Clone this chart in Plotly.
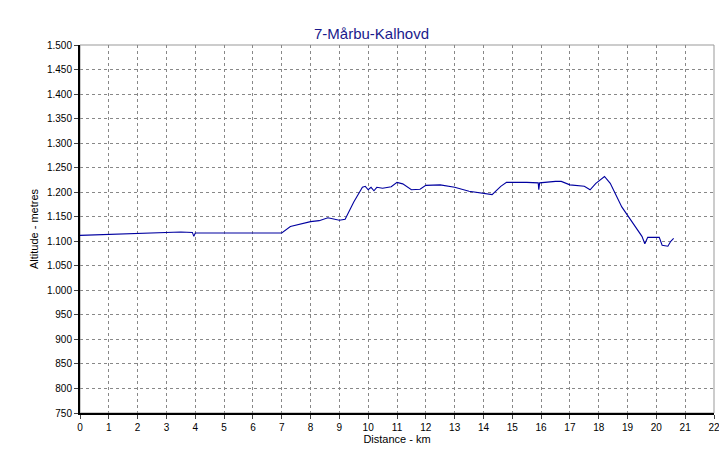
import plotly.graph_objects as go

dist_km = [0, 0.5, 1, 1.5, 2, 2.5, 3, 3.5, 3.9, 3.95, 4.0, 5, 6, 7, 7.3, 7.7, 8, 8.3, 8.6, 9,
           9.2, 9.5, 9.8, 9.9, 10.0, 10.1, 10.2, 10.3, 10.5, 10.8, 11, 11.2, 11.5, 11.8, 12,
           12.5, 13, 13.5, 14, 14.3, 14.6, 14.8, 15.5, 15.9, 15.92, 15.95, 16.5, 16.7, 17,
           17.5, 17.7, 17.9, 18.2, 18.4, 18.8, 19.2, 19.5, 19.6, 19.7, 20.1, 20.2, 20.4,
           20.5, 20.6]
alt_m = [1112, 1113, 1115, 1116, 1116, 1117, 1118, 1119, 1118, 1110, 1117, 1117, 1117, 1117,
         1130, 1136, 1140, 1142, 1148, 1143, 1145, 1180, 1210, 1212, 1205, 1210, 1203, 1210,
         1208, 1211, 1220, 1217, 1205, 1206, 1214, 1215, 1210, 1202, 1197, 1195, 1212, 1220,
         1220, 1219, 1205, 1219, 1222, 1222, 1215, 1212, 1205, 1218, 1232, 1218, 1170, 1135,
         1110, 1095, 1108, 1108, 1092, 1090, 1100, 1106]

y_ticks = list(range(750, 1501, 50))
y_labels = [f"{v:,}".replace(",", ".") for v in y_ticks]

fig = go.Figure(go.Scatter(x=dist_km, y=alt_m, mode="lines",
                           line=dict(color="#0000a0", width=1.1)))

fig.update_layout(
    width=727, height=452,
    margin=dict(l=72, r=21, t=37, b=47),
    paper_bgcolor="white", plot_bgcolor="white",
    font=dict(family="Liberation Sans, Arial", size=10, color="black"),
    title=dict(text="7-Mårbu-Kalhovd", x=0.5, xanchor="center", y=0.955,
               font=dict(size=15, color="#1a1a8c")),
    showlegend=False,
)
fig.update_xaxes(range=[0, 22], tickmode="array", tickvals=list(range(0, 23)),
                 showgrid=True, gridcolor="#888", griddash="3px,3px", gridwidth=1,
                 showline=True, linecolor="black", linewidth=2, mirror=False,
                 ticks="outside", ticklen=4, automargin=False,
                 title=dict(text="Distance - km", font=dict(size=11), standoff=2),
                 zeroline=False)
fig.update_yaxes(range=[750, 1500], tickmode="array", tickvals=y_ticks, ticktext=y_labels,
                 showgrid=True, gridcolor="#888", griddash="3px,3px", gridwidth=1,
                 showline=True, linecolor="black", linewidth=2,
                 ticks="outside", ticklen=4, automargin=False,
                 title=dict(text="Altitude - metres", font=dict(size=11), standoff=6),
                 zeroline=False)
fig.add_shape(type="rect", xref="paper", yref="paper", x0=0, y0=0, x1=1, y1=1,
              line=dict(color="#999", width=1), layer="below")

fig.write_html("out.html")
